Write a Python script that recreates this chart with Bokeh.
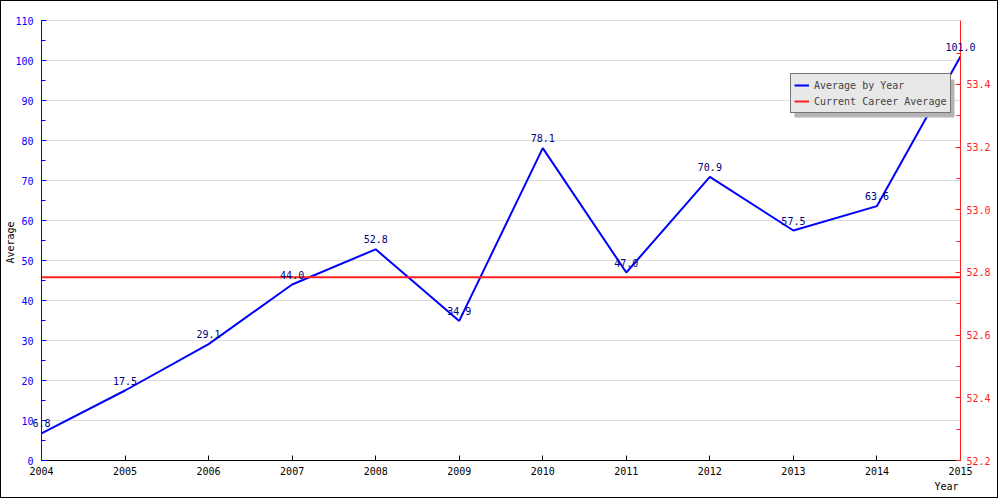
from bokeh.plotting import figure
from bokeh.models import (Range1d, LinearAxis, SingleIntervalTicker, FixedTicker, PrintfTickFormatter,
                          Legend, LegendItem, Label, ColumnDataSource, BoxAnnotation)
from bokeh.embed import file_html
from bokeh.resources import INLINE
import math

years = [2004, 2005, 2006, 2007, 2008, 2009, 2010, 2011, 2012, 2013, 2014, 2015]
averages = [6.8, 17.5, 29.1, 44.0, 52.8, 34.9, 78.1, 47.0, 70.9, 57.5, 63.6, 101.0]
career_average = 52.785
left_bounds = (0, 110)
right_bounds = (52.2, 53.604)
right_ticks = [52.2, 52.4, 52.6, 52.8, 53.0, 53.2, 53.4]
right_minor = [52.3, 52.5, 52.7, 52.9, 53.1, 53.3, 53.5]

FONT = "DejaVu Sans Mono"
FS = "10px"
BLUE = "#0000ff"
RED = "#ff2020"

# canvas and plot-area geometry (pixels)
W, H = 998, 498
ML, MR, MT, MB = 40, 39, 19, 39
FW, FH = W - ML - MR, H - MT - MB


def pad(lo, hi, before, after, size):
    k = (hi - lo) / size
    return lo - before * k, hi + after * k


xr = pad(years[0], years[-1], ML, MR, FW)
yr = pad(left_bounds[0], left_bounds[1], MB, MT, FH)
rr = pad(right_bounds[0], right_bounds[1], MB, MT, FH)

p = figure(width=W, height=H, output_backend="svg", toolbar_location=None,
           x_range=Range1d(*xr), y_range=Range1d(*yr),
           min_border=0, background_fill_color="white", border_fill_color="white",
           styles={"border": "1px solid black"})
p.outline_line_color = None
p.extra_y_ranges = {"right": Range1d(*rr)}

# axes
xax = p.xaxis[0]
yax = p.yaxis[0]
xax.fixed_location = left_bounds[0]
xax.bounds = (years[0], years[-1])
yax.fixed_location = years[0]
yax.bounds = left_bounds
xax.ticker = SingleIntervalTicker(interval=1, num_minor_ticks=0)
yax.ticker = SingleIntervalTicker(interval=10, num_minor_ticks=2)

rax = LinearAxis(y_range_name="right",
                 ticker=FixedTicker(ticks=right_ticks, minor_ticks=right_minor),
                 formatter=PrintfTickFormatter(format="%.1f"))
rax.fixed_location = years[-1]
rax.bounds = right_bounds
p.add_layout(rax, "right")

for ax, col in [(xax, "black"), (yax, BLUE), (rax, RED)]:
    ax.major_tick_in = 5
    ax.major_tick_out = 0
    ax.minor_tick_in = 4
    ax.minor_tick_out = 0
    ax.major_label_text_font = FONT
    ax.major_label_text_font_size = FS
    ax.axis_line_color = col
    ax.major_tick_line_color = col
    ax.minor_tick_line_color = col
    ax.major_label_text_color = col
xax.major_label_standoff = 6
yax.major_label_standoff = 8
rax.major_label_standoff = 6

p.xgrid.visible = False
p.ygrid.grid_line_color = "#dcdcdc"
p.ygrid.grid_line_width = 1
p.ygrid.bounds = left_bounds
p.ygrid.cross_bounds = (years[0], years[-1])

src = ColumnDataSource(dict(x=years, y=averages))
blue = p.line("x", "y", source=src, line_color=BLUE, line_width=2)
red = p.line([years[0], years[-1]], [career_average, career_average], y_range_name="right",
             line_color=RED, line_width=2)

for xv, yv in zip(years, averages):
    p.add_layout(Label(x=xv, y=yv, text="%.1f" % yv, text_align="center", text_baseline="middle",
                       y_offset=10, text_font=FONT, text_font_size=FS, text_color="#000080"))


# legend shadow (canvas pixel -> data)
def fx(px):
    return xr[0] + px * (xr[1] - xr[0]) / W


def fy(py):
    return yr[0] + py * (yr[1] - yr[0]) / H


leg_x, leg_y, leg_w, leg_h = 789, 386, 160, 38
p.add_layout(BoxAnnotation(left=fx(leg_x + 4), right=fx(leg_x + leg_w + 4),
                           bottom=fy(leg_y - 4), top=fy(leg_y + leg_h - 4),
                           fill_color="#b4b4b4", fill_alpha=1, line_color=None))

legend = Legend(items=[LegendItem(label="Average by Year", renderers=[blue]),
                       LegendItem(label="Current Career Average", renderers=[red])],
                location=(leg_x, leg_y), margin=0, padding=3, spacing=0,
                glyph_width=15, glyph_height=16, label_height=16, label_width=133,
                label_standoff=5, label_text_font=FONT, label_text_font_size=FS,
                background_fill_color="#e8e8e8", background_fill_alpha=1,
                border_line_color="black", border_line_width=1)
p.add_layout(legend, "center")

p.add_layout(Label(x=9, y=H - 241, x_units="screen", y_units="screen", text="Average",
                   angle=math.pi / 2, text_align="center", text_baseline="middle",
                   text_font=FONT, text_font_size=FS, text_color="black"))
p.add_layout(Label(x=957, y=H - 485, x_units="screen", y_units="screen", text="Year",
                   text_align="right", text_baseline="middle",
                   text_font=FONT, text_font_size=FS, text_color="black"))

open("out.html", "w").write(file_html(p, INLINE))
